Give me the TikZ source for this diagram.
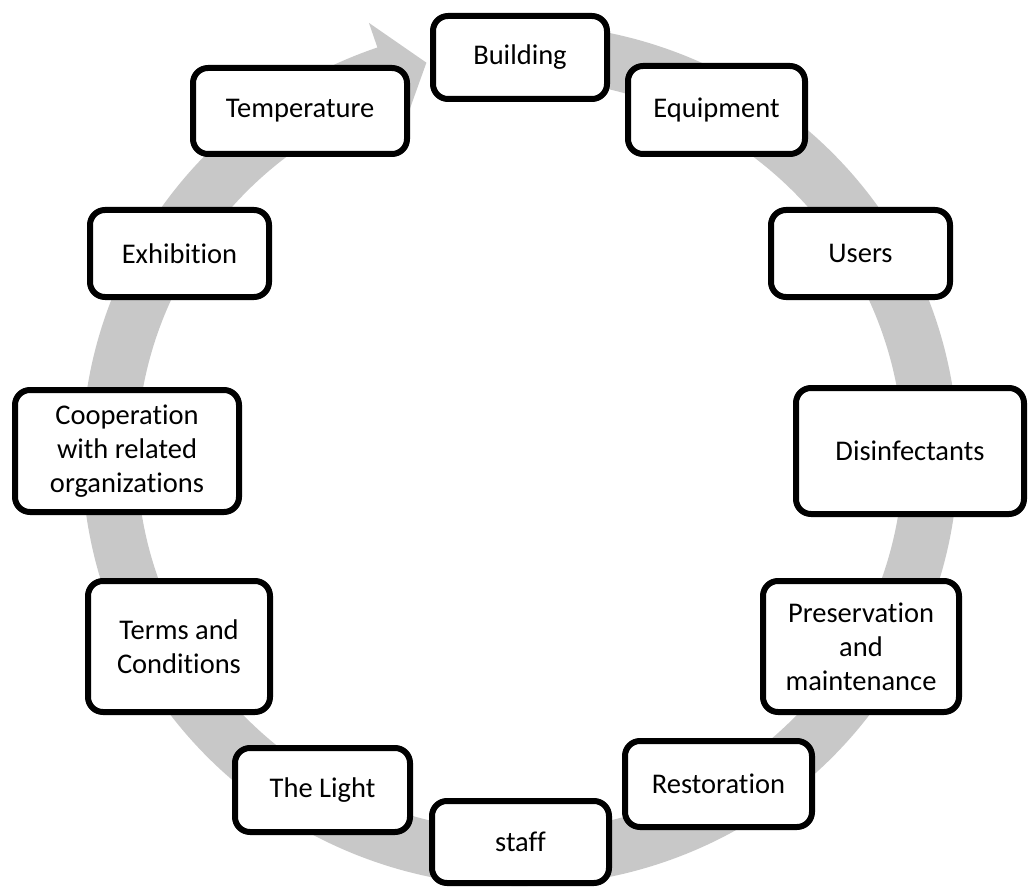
\documentclass[tikz,border=0pt]{standalone}
\usepackage{fontspec}
\setmainfont[Ligatures={NoCommon}]{Carlito}
\definecolor{bandgray}{RGB}{200,200,200}
\begin{document}
\begin{tikzpicture}[x=1pt,y=-1pt,
  box/.style={draw=black, line width=6pt, fill=white, rounded corners=15pt,
    inner sep=0pt, align=center, font=\fontsize{28.5}{34}\selectfont},
  ]
\useasboundingbox (0,0) rectangle (1029,888);
% circular arrow band
\fill[bandgray]
  ({520+438*cos(-100)},{455+431*sin(-100)})
  arc[start angle=-100, end angle=251, x radius=438, y radius=431]
  -- ({520+464*cos(251)},{455+457*sin(251)})
  -- ({520+410*cos(256.8)},{455+403*sin(256.8)})
  -- ({520+356*cos(251)},{455+349*sin(251)})
  -- ({520+383*cos(251)},{455+376*sin(251)})
  arc[start angle=251, end angle=-100, x radius=383, y radius=376]
  -- cycle;
% boxes
\node[box, minimum width=174, minimum height=83] (building) at (520,57.5) {Building};
\node[box, minimum width=177, minimum height=88] (equipment) at (716.5,110) {Equipment};
\node[box, minimum width=214, minimum height=86] (temperature) at (300,111) {Temperature};
\node[box, minimum width=179, minimum height=87] (exhibition) at (179.5,253.5) {Exhibition};
\node[box, minimum width=179, minimum height=87] (users) at (860.5,253.5) {Users};
\node[box, minimum width=224, minimum height=122] (cooperation) at (127,451) {Cooperation\\with related\\organizations};
\node[box, minimum width=228, minimum height=126] (disinfectants) at (910,451) {Disinfectants};
\node[box, minimum width=182, minimum height=131] (terms) at (179,646.5) {Terms and\\Conditions};
\node[box, minimum width=196, minimum height=131] (preservation) at (861,646.5) {Preservation\\and\\maintenance};
\node[box, minimum width=175, minimum height=84] (light) at (322.5,790) {The Light};
\node[box, minimum width=187, minimum height=86] (restoration) at (718.5,784) {Restoration};
\node[box, minimum width=177, minimum height=82] (staff) at (520.5,842) {staff};
\end{tikzpicture}
\end{document}
